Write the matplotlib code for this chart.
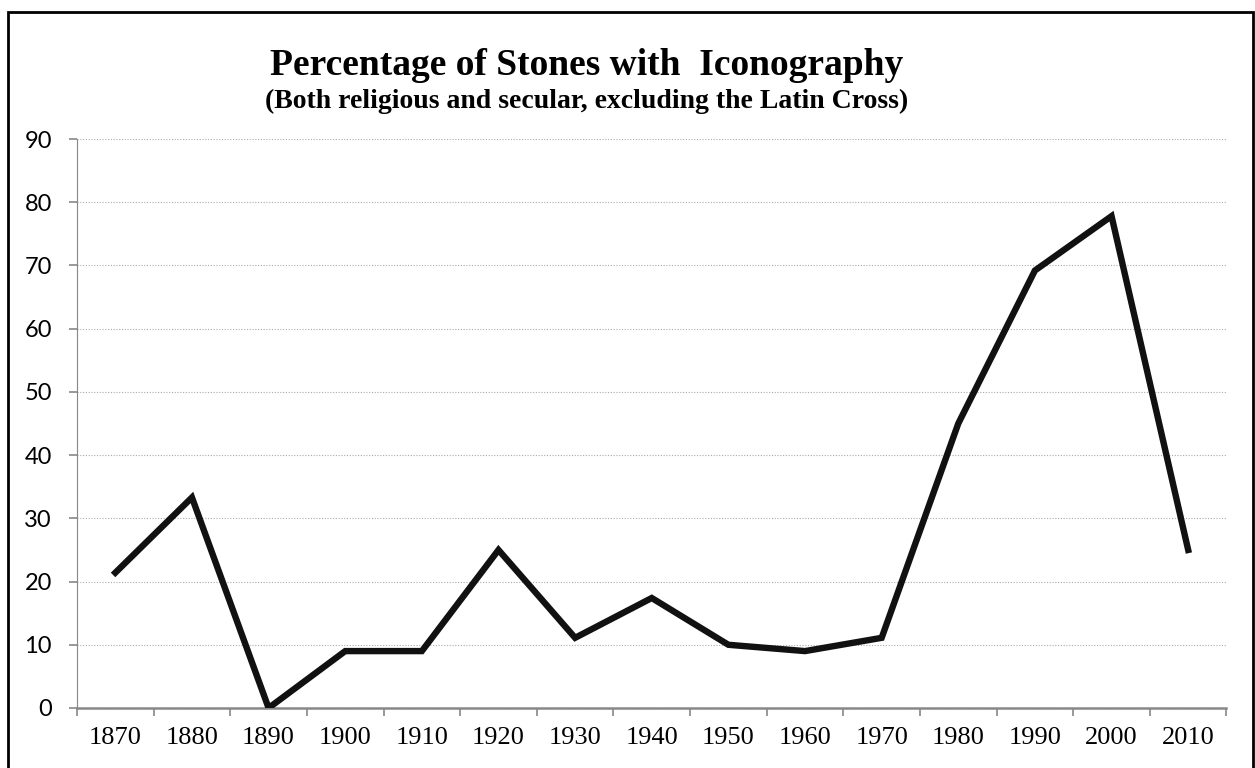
import matplotlib
matplotlib.use("Agg")
import matplotlib.pyplot as plt
from matplotlib.patches import Rectangle

decades = ["1870", "1880", "1890", "1900", "1910", "1920", "1930", "1940",
           "1950", "1960", "1970", "1980", "1990", "2000", "2010"]
percent = [21.4, 33.3, 0.0, 9.0, 9.0, 25.0, 11.1, 17.4,
           10.0, 9.0, 11.1, 45.0, 69.2, 77.8, 25.0]
yticks = [0, 10, 20, 30, 40, 50, 60, 70, 80, 90]

W, H = 1255, 768
fig = plt.figure(figsize=(W / 100, H / 100), dpi=100)
ax = fig.add_axes([77 / W, (H - 708) / H, (1226.5 - 77) / W, (708 - 139) / H])

x = list(range(len(decades)))
ax.plot(x, percent, color="#111111", lw=4.6, solid_joinstyle="miter", zorder=3)

ax.set_xlim(-0.5, len(decades) - 0.5)
ax.set_ylim(0, 90)
ax.set_yticks(yticks)
ax.set_yticklabels([str(v) for v in yticks], family="Lato", fontsize=17)
ax.set_xticks(x)
ax.set_xticklabels(decades, family="Liberation Serif", fontsize=19)
ax.set_xticks([i - 0.5 for i in range(len(decades) + 1)], minor=True)
ax.tick_params(axis="x", which="major", length=0, pad=14)
ax.tick_params(axis="x", which="minor", length=6, color="#888888", width=1.2)
ax.tick_params(axis="y", length=6, color="#888888", width=1.2, pad=12)

ax.grid(axis="y", color="#aaaaaa", linestyle=(0, (1, 1.5)), linewidth=0.8)
for s in ["top", "right"]:
    ax.spines[s].set_visible(False)
ax.spines["left"].set_color("#888888")
ax.spines["left"].set_linestyle((0, (1, 0.6)))
ax.spines["bottom"].set_color("#888888")
ax.spines["bottom"].set_linewidth(1.8)
ax.set_axisbelow(True)

fig.text(586.5 / W, 1 - 75 / H, "Percentage of Stones with  Iconography",
         ha="center", va="baseline", family="Liberation Serif",
         fontweight="bold", fontsize=27)
fig.text(587 / W, 1 - 108 / H, "(Both religious and secular, excluding the Latin Cross)",
         ha="center", va="baseline", family="Liberation Serif",
         fontweight="bold", fontsize=20)

fig.patches.append(Rectangle((7.5 / W, -0.01), (1252.5 - 7.5) / W, (H - 11.5) / H + 0.01,
                             transform=fig.transFigure, fill=False,
                             edgecolor="black", lw=2))

fig.savefig("out.png", dpi=100)
